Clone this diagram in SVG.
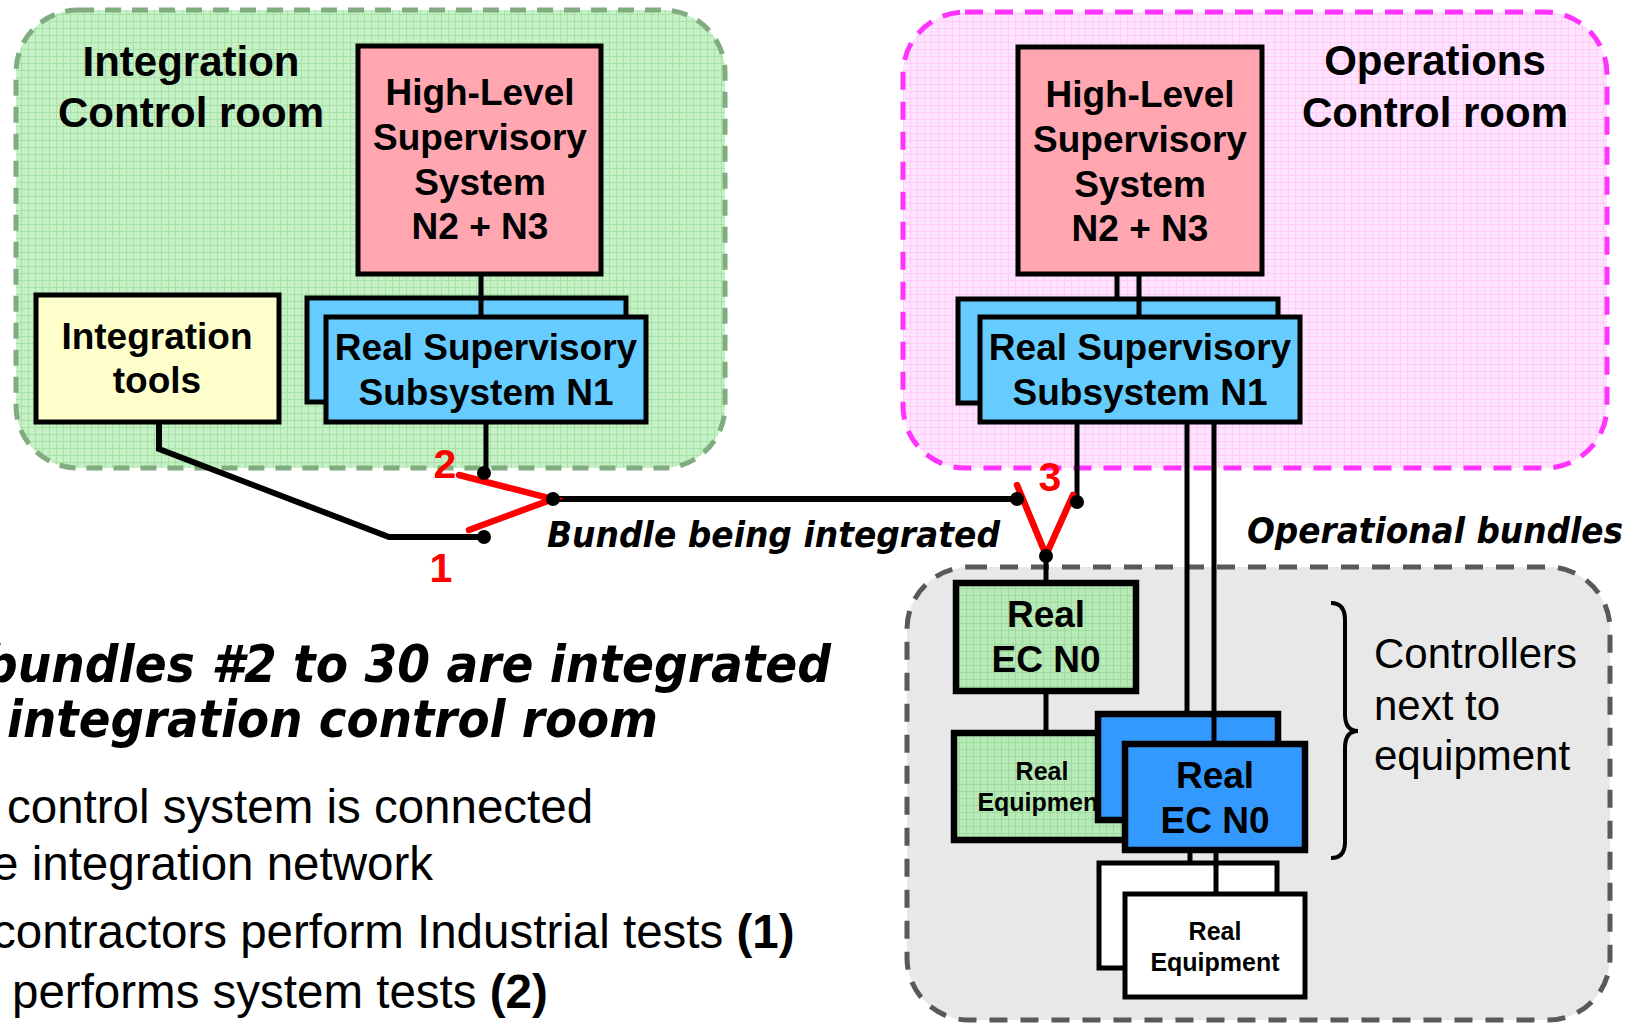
<svg xmlns="http://www.w3.org/2000/svg" width="1645" height="1024" viewBox="0 0 1645 1024">
<defs>
<pattern id="gGrid" width="7" height="7" patternUnits="userSpaceOnUse">
<rect width="7" height="7" fill="#C6F0C6"/>
<path d="M0 0.5H7M0.5 0V7" stroke="#A6E2A6" stroke-width="1"/>
</pattern>
<pattern id="pGrid" width="7" height="7" patternUnits="userSpaceOnUse">
<rect width="7" height="7" fill="#FFE4FF"/>
<path d="M0 0.5H7M0.5 0V7" stroke="#FFCCF8" stroke-width="1"/>
</pattern>
<pattern id="ecGrid" width="7" height="7" patternUnits="userSpaceOnUse">
<rect width="7" height="7" fill="#B8EAB8"/>
<path d="M0 0.5H7M0.5 0V7" stroke="#9EDC9E" stroke-width="1"/>
</pattern>
</defs>
<style>
.box{stroke:#000;stroke-width:5}
.thick{stroke:#000;stroke-width:6.5}
.lbl{font-family:'Liberation Sans',Arial,sans-serif;font-weight:bold;text-anchor:middle;fill:#000}
.room{font-size:42px}
.node{font-size:37px}
.small{font-size:25px}
.body{font-family:'Liberation Sans',Arial,sans-serif;font-size:47.5px;fill:#000}
.side{font-family:'Liberation Sans',Arial,sans-serif;font-size:42px;fill:#000}
.head{font-family:'DejaVu Sans',Verdana,sans-serif;font-weight:bold;font-style:italic;fill:#000}
.red{font-family:'Liberation Sans',Arial,sans-serif;font-weight:bold;font-size:41px;fill:#FF0000;text-anchor:middle}
.wire{stroke:#000;stroke-width:5;fill:none}
.bus{stroke:#000;stroke-width:6;fill:none}
.rwire{stroke:#FF0000;stroke-width:6.5;fill:none;stroke-linecap:round}
.dot{fill:#000}
</style>

<g id="integration-room">
<rect x="16" y="10" width="709" height="458" rx="62" fill="url(#gGrid)" stroke="#80AC80" stroke-width="5" stroke-dasharray="16 11"/>
<text class="lbl room" x="191" y="76">Integration</text>
<text class="lbl room" x="191" y="127">Control room</text>
</g>

<g id="operations-room">
<rect x="903" y="12" width="704" height="456" rx="62" fill="url(#pGrid)" stroke="#FF33FF" stroke-width="5" stroke-dasharray="18 12"/>
<text class="lbl room" x="1435" y="75">Operations</text>
<text class="lbl room" x="1435" y="127">Control room</text>
</g>

<g id="equipment-area">
<rect x="907" y="567" width="703" height="453" rx="62" fill="#E8E8E8" stroke="#595959" stroke-width="5" stroke-dasharray="18 13"/>
</g>

<g id="hl-integration">
<rect class="box" x="358" y="46" width="243" height="228" fill="#FFA6B0"/>
<text class="lbl node" x="480" y="105">High-Level</text>
<text class="lbl node" x="480" y="150">Supervisory</text>
<text class="lbl node" x="480" y="195">System</text>
<text class="lbl node" x="480" y="239">N2 + N3</text>
</g>

<g id="rss-integration">
<rect class="box" x="307" y="298" width="319" height="104" fill="#66CCFF"/>
<rect class="box" x="326" y="317" width="320" height="105" fill="#66CCFF"/>
<text class="lbl node" x="486" y="360">Real Supervisory</text>
<text class="lbl node" x="486" y="405">Subsystem N1</text>
</g>

<g id="integration-tools">
<rect class="box" x="36" y="295" width="243" height="127" fill="#FFFFCC"/>
<text class="lbl node" x="157" y="349">Integration</text>
<text class="lbl node" x="157" y="393">tools</text>
</g>

<g id="hl-operations">
<rect class="box" x="1018" y="47" width="244" height="227" fill="#FFA6B0"/>
<text class="lbl node" x="1140" y="107">High-Level</text>
<text class="lbl node" x="1140" y="152">Supervisory</text>
<text class="lbl node" x="1140" y="197">System</text>
<text class="lbl node" x="1140" y="241">N2 + N3</text>
</g>

<g id="rss-operations">
<rect class="box" x="958" y="299" width="320" height="104" fill="#66CCFF"/>
<rect class="box" x="980" y="317" width="320" height="105" fill="#66CCFF"/>
<text class="lbl node" x="1140" y="360">Real Supervisory</text>
<text class="lbl node" x="1140" y="405">Subsystem N1</text>
</g>

<g id="ec-integrated">
<rect class="thick" x="956" y="583" width="180" height="108" fill="url(#ecGrid)"/>
<text class="lbl node" x="1046" y="627">Real</text>
<text class="lbl node" x="1046" y="672">EC N0</text>
</g>

<g id="equipment-integrated">
<rect class="thick" x="954" y="733" width="176" height="107" fill="url(#ecGrid)"/>
<text class="lbl small" x="1042" y="780">Real</text>
<text class="lbl small" x="1042" y="811">Equipment</text>
</g>

<g id="ec-operational">
<rect class="thick" x="1098" y="714" width="180" height="106" fill="#3399FF"/>
<rect class="thick" x="1125" y="744" width="180" height="106" fill="#3399FF"/>
<text class="lbl node" x="1215" y="788">Real</text>
<text class="lbl node" x="1215" y="833">EC N0</text>
</g>

<g id="equipment-operational">
<rect class="box" x="1099" y="863" width="178" height="105" fill="#FFFFFF"/>
<rect class="box" x="1125" y="894" width="180" height="103" fill="#FFFFFF"/>
<text class="lbl small" x="1215" y="940">Real</text>
<text class="lbl small" x="1215" y="971">Equipment</text>
</g>

<g id="connectors">
<path class="wire" d="M481 274V317"/>
<path class="wire" d="M486 422V473"/>
<path class="bus" d="M159 422V449L389 537H484"/>
<path class="bus" d="M553 499H1017"/>
<path class="wire" d="M1077 422V502"/>
<path class="wire" d="M1117 274V299"/>
<path class="wire" d="M1139 274V317"/>
<path class="wire" d="M1187 422V714"/>
<path class="wire" d="M1214 422V744"/>
<path class="wire" d="M1046 556V583"/>
<path class="wire" d="M1046 691V733"/>
<path class="wire" d="M1190 850V863"/>
<path class="wire" d="M1216 850V894"/>
<path class="rwire" d="M459 475L553 499L469 530"/>
<path class="rwire" d="M1017 485L1046 555L1073 495"/>
<circle class="dot" cx="484" cy="473" r="7"/>
<circle class="dot" cx="484" cy="537" r="7"/>
<circle class="dot" cx="553" cy="499" r="7"/>
<circle class="dot" cx="1017" cy="499" r="7"/>
<circle class="dot" cx="1077" cy="502" r="7"/>
<circle class="dot" cx="1046" cy="556" r="7"/>
</g>

<g id="labels">
<text class="red" x="445" y="478">2</text>
<text class="red" x="441" y="582">1</text>
<text class="red" x="1050" y="491">3</text>
<text class="head" x="547" y="547" font-size="36" textLength="453" lengthAdjust="spacingAndGlyphs">Bundle being integrated</text>
<text class="head" x="1247" y="543" font-size="36" textLength="376" lengthAdjust="spacingAndGlyphs">Operational bundles</text>
<path d="M1331 603Q1345 603 1345 620V714Q1345 731 1358 731Q1345 731 1345 748V842Q1345 858 1331 858" fill="none" stroke="#000" stroke-width="4"/>
<text class="side" x="1374" y="668">Controllers</text>
<text class="side" x="1374" y="720">next to</text>
<text class="side" x="1374" y="770">equipment</text>
<text class="head" x="-16" y="682" font-size="52" textLength="847" lengthAdjust="spacingAndGlyphs">bundles #2 to 30 are integrated</text>
<text class="head" x="7" y="737" font-size="52" textLength="651" lengthAdjust="spacingAndGlyphs">integration control room</text>
<text class="body" x="7" y="823">control system is connected</text>
<text class="body" x="433" y="880" text-anchor="end">e integration network</text>
<text class="body" x="-8" y="948">contractors perform Industrial tests <tspan font-weight="bold">(1)</tspan></text>
<text class="body" x="12" y="1008">performs system tests <tspan font-weight="bold">(2)</tspan></text>
</g>
</svg>
